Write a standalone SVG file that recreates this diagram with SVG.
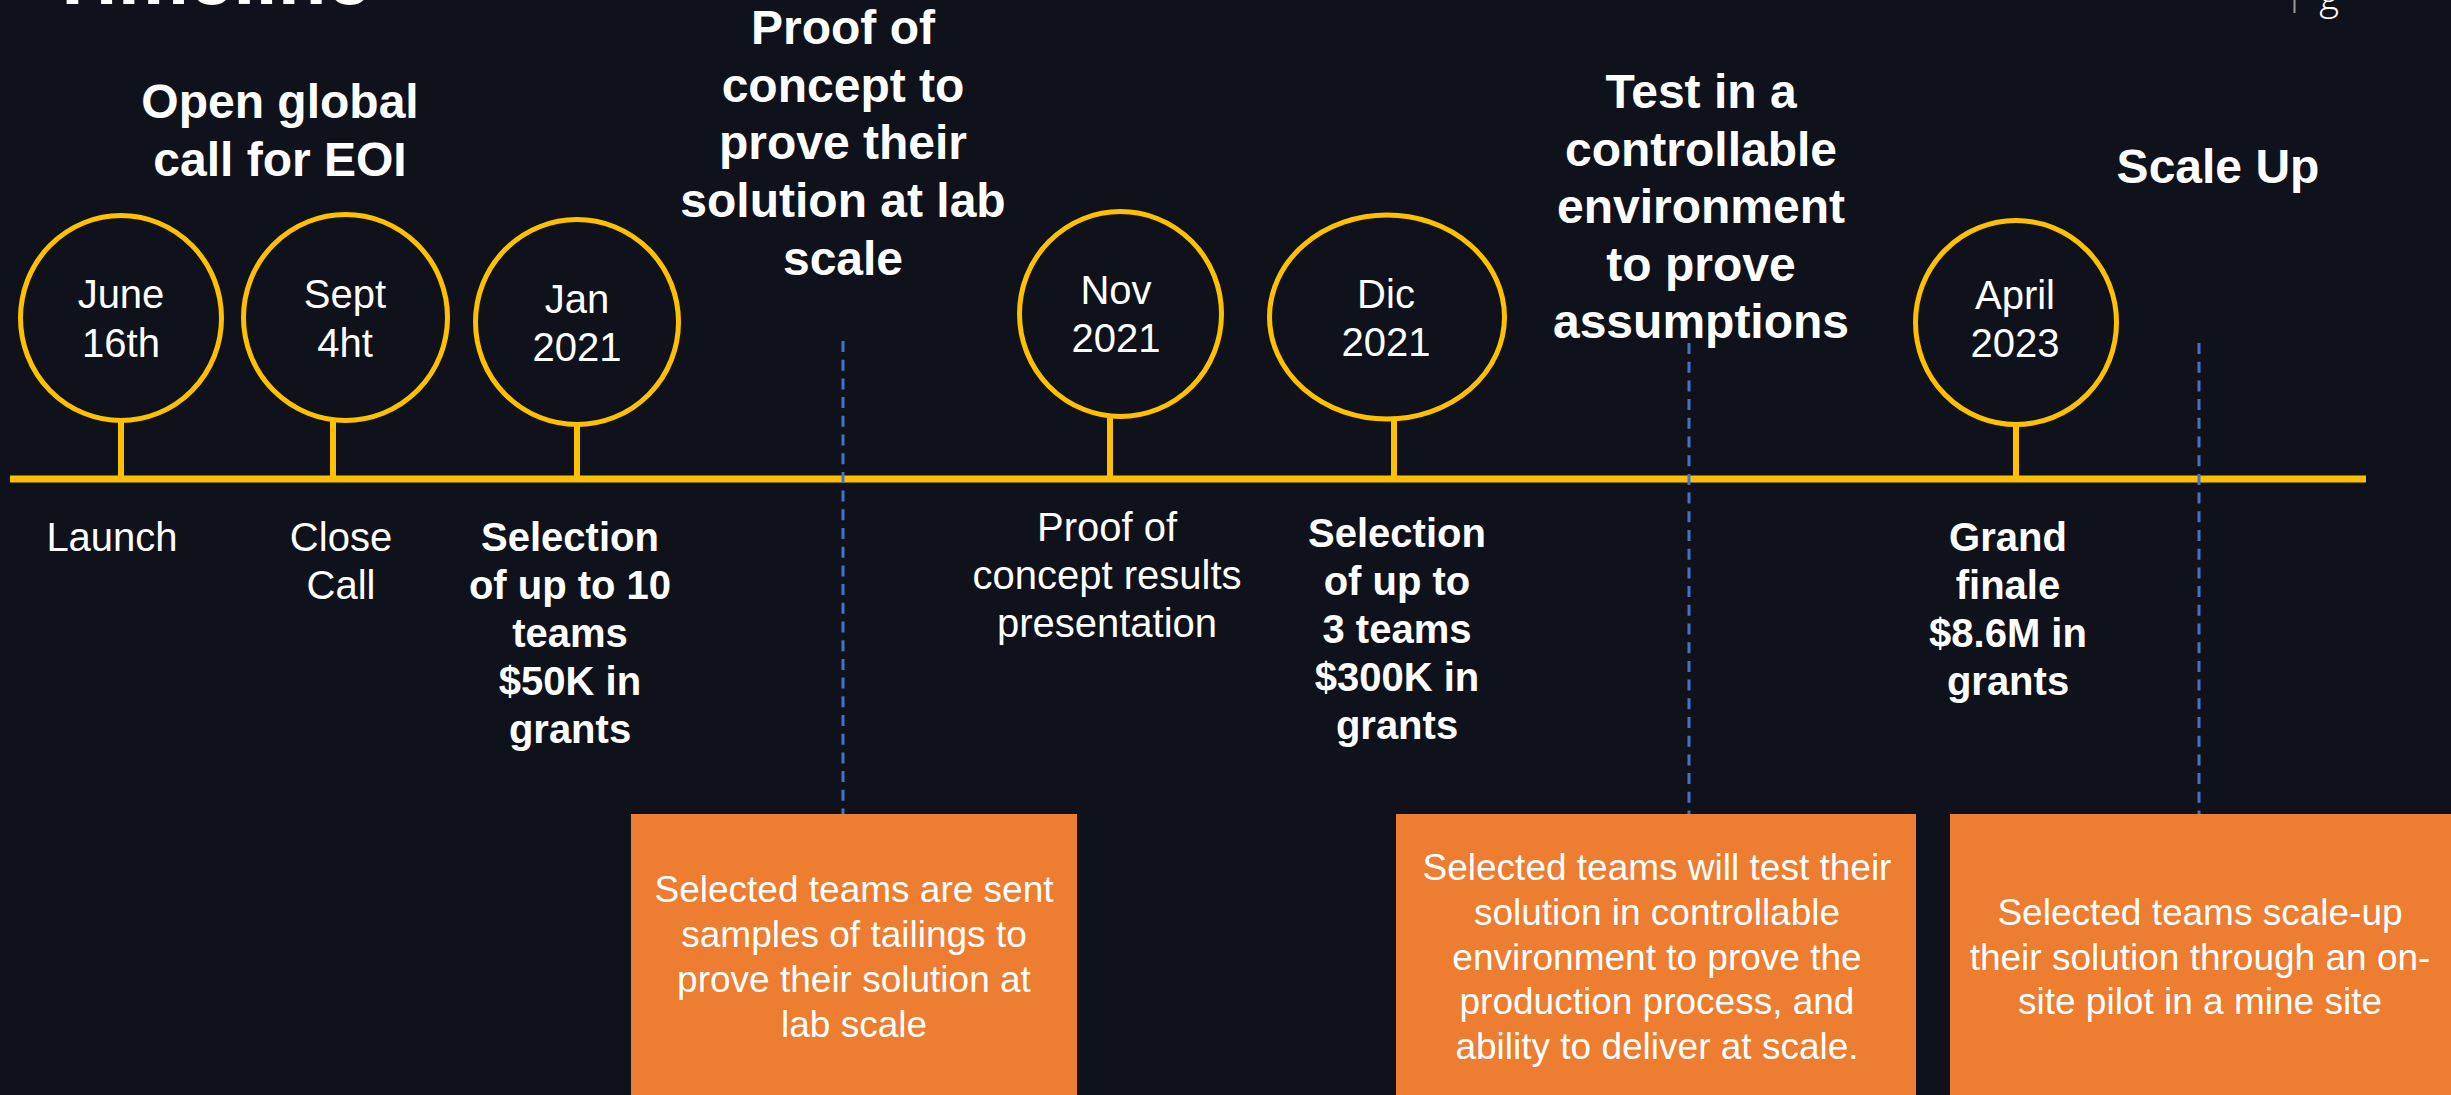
<svg xmlns="http://www.w3.org/2000/svg" width="2451" height="1095" viewBox="0 0 2451 1095">
  <style>
    text { font-family: "Liberation Sans", Arial, sans-serif; fill: #ffffff; text-anchor: middle; }
    .title { font-size: 80px; font-weight: bold; text-anchor: start; }
    .head { font-size: 48px; font-weight: bold; }
    .date { font-size: 40px; }
    .lbl { font-size: 40px; }
    .lblb { font-size: 40px; font-weight: bold; }
    .box { font-size: 37px; }
    .ring { fill: none; stroke: #ffc000; stroke-width: 5; }
    .axis { stroke: #ffc000; stroke-width: 7; fill: none; }
    .stem { stroke: #ffc000; stroke-width: 6; fill: none; }
    .guide { stroke: #4472c4; stroke-width: 3; stroke-dasharray: 11 7.7; fill: none; }
    .card { fill: #ed7d31; }
  </style>

  <rect x="0" y="0" width="2451" height="1095" fill="#0f121a"/>

  <!-- page title and corner mark -->
  <g id="title">
    <text class="title" x="48" y="4">Timeline</text>
  </g>
  <g id="corner-mark">
    <line x1="2294.5" y1="0" x2="2294.5" y2="13" stroke="#9a9a9a" stroke-width="2"/>
    <text x="2329" y="10" style="font-family:'Open Sans',sans-serif;font-size:38px;font-weight:300;">g</text>
  </g>

  <!-- timeline axis, stems and phase guides -->
  <g id="connectors">
    <line class="axis" x1="10" y1="479" x2="2366" y2="479"/>
    <line class="stem" x1="121" y1="422" x2="121" y2="479"/>
    <line class="stem" x1="333" y1="421" x2="333" y2="479"/>
    <line class="stem" x1="577" y1="426" x2="577" y2="479"/>
    <line class="stem" x1="1110" y1="418" x2="1110" y2="479"/>
    <line class="stem" x1="1394" y1="421" x2="1394" y2="479"/>
    <line class="stem" x1="2016" y1="426" x2="2016" y2="479"/>
    <line class="guide" x1="843" y1="341" x2="843" y2="814"/>
    <line class="guide" x1="1689" y1="343" x2="1689" y2="814"/>
    <line class="guide" x1="2199" y1="343" x2="2199" y2="814"/>
  </g>

  <!-- milestones -->
  <g id="m-june">
    <ellipse class="ring" cx="121" cy="318" rx="100.5" ry="102.5"/>
    <text class="date" x="121" y="308">June</text>
    <text class="date" x="121" y="357">16th</text>
    <text class="lbl" x="112" y="551">Launch</text>
  </g>
  <g id="m-sept">
    <ellipse class="ring" cx="345.5" cy="317.5" rx="102" ry="103"/>
    <text class="date" x="345" y="308">Sept</text>
    <text class="date" x="345" y="357">4ht</text>
    <text class="lbl" x="341" y="551">Close</text>
    <text class="lbl" x="341" y="599">Call</text>
  </g>
  <g id="m-jan">
    <ellipse class="ring" cx="577" cy="322" rx="101.5" ry="102.5"/>
    <text class="date" x="577" y="313">Jan</text>
    <text class="date" x="577" y="361">2021</text>
    <text class="lblb" x="570" y="551">Selection</text>
    <text class="lblb" x="570" y="599">of up to 10</text>
    <text class="lblb" x="570" y="647">teams</text>
    <text class="lblb" x="570" y="695">$50K in</text>
    <text class="lblb" x="570" y="743">grants</text>
  </g>
  <g id="m-nov">
    <ellipse class="ring" cx="1120.5" cy="314" rx="101" ry="102.5"/>
    <text class="date" x="1116" y="304">Nov</text>
    <text class="date" x="1116" y="352">2021</text>
    <text class="lbl" x="1107" y="541">Proof of</text>
    <text class="lbl" x="1107" y="589">concept results</text>
    <text class="lbl" x="1107" y="637">presentation</text>
  </g>
  <g id="m-dic">
    <ellipse class="ring" cx="1387" cy="317" rx="117.5" ry="102"/>
    <text class="date" x="1386" y="308">Dic</text>
    <text class="date" x="1386" y="356">2021</text>
    <text class="lblb" x="1397" y="547">Selection</text>
    <text class="lblb" x="1397" y="595">of up to</text>
    <text class="lblb" x="1397" y="643">3 teams</text>
    <text class="lblb" x="1397" y="691">$300K in</text>
    <text class="lblb" x="1397" y="739">grants</text>
  </g>
  <g id="m-april">
    <ellipse class="ring" cx="2016" cy="322.5" rx="100.5" ry="102"/>
    <text class="date" x="2015" y="309">April</text>
    <text class="date" x="2015" y="357">2023</text>
    <text class="lblb" x="2008" y="551">Grand</text>
    <text class="lblb" x="2008" y="599">finale</text>
    <text class="lblb" x="2008" y="647">$8.6M in</text>
    <text class="lblb" x="2008" y="695">grants</text>
  </g>

  <!-- phase headings -->
  <g id="h-open-call">
    <text class="head" x="280" y="118">Open global</text>
    <text class="head" x="280" y="176">call for EOI</text>
  </g>
  <g id="h-proof">
    <text class="head" x="843" y="44">Proof of</text>
    <text class="head" x="843" y="102">concept to</text>
    <text class="head" x="843" y="159">prove their</text>
    <text class="head" x="843" y="217">solution at lab</text>
    <text class="head" x="843" y="275">scale</text>
  </g>
  <g id="h-test">
    <text class="head" x="1701" y="108">Test in a</text>
    <text class="head" x="1701" y="166">controllable</text>
    <text class="head" x="1701" y="223">environment</text>
    <text class="head" x="1701" y="281">to prove</text>
    <text class="head" x="1701" y="338">assumptions</text>
  </g>
  <g id="h-scale">
    <text class="head" x="2218" y="183">Scale Up</text>
  </g>

  <!-- phase detail cards -->
  <g id="card-lab">
    <rect class="card" x="631" y="814" width="446" height="290"/>
    <text class="box" x="854" y="902">Selected teams are sent</text>
    <text class="box" x="854" y="947">samples of tailings to</text>
    <text class="box" x="854" y="992">prove their solution at</text>
    <text class="box" x="854" y="1037">lab scale</text>
  </g>
  <g id="card-test">
    <rect class="card" x="1396" y="814" width="520" height="290"/>
    <text class="box" x="1657" y="880">Selected teams will test their</text>
    <text class="box" x="1657" y="925">solution in controllable</text>
    <text class="box" x="1657" y="970">environment to prove the</text>
    <text class="box" x="1657" y="1014">production process, and</text>
    <text class="box" x="1657" y="1059">ability to deliver at scale.</text>
  </g>
  <g id="card-scale">
    <rect class="card" x="1950" y="814" width="510" height="290"/>
    <text class="box" x="2200" y="925">Selected teams scale-up</text>
    <text class="box" x="2200" y="970">their solution through an on-</text>
    <text class="box" x="2200" y="1014">site pilot in a mine site</text>
  </g>
</svg>
